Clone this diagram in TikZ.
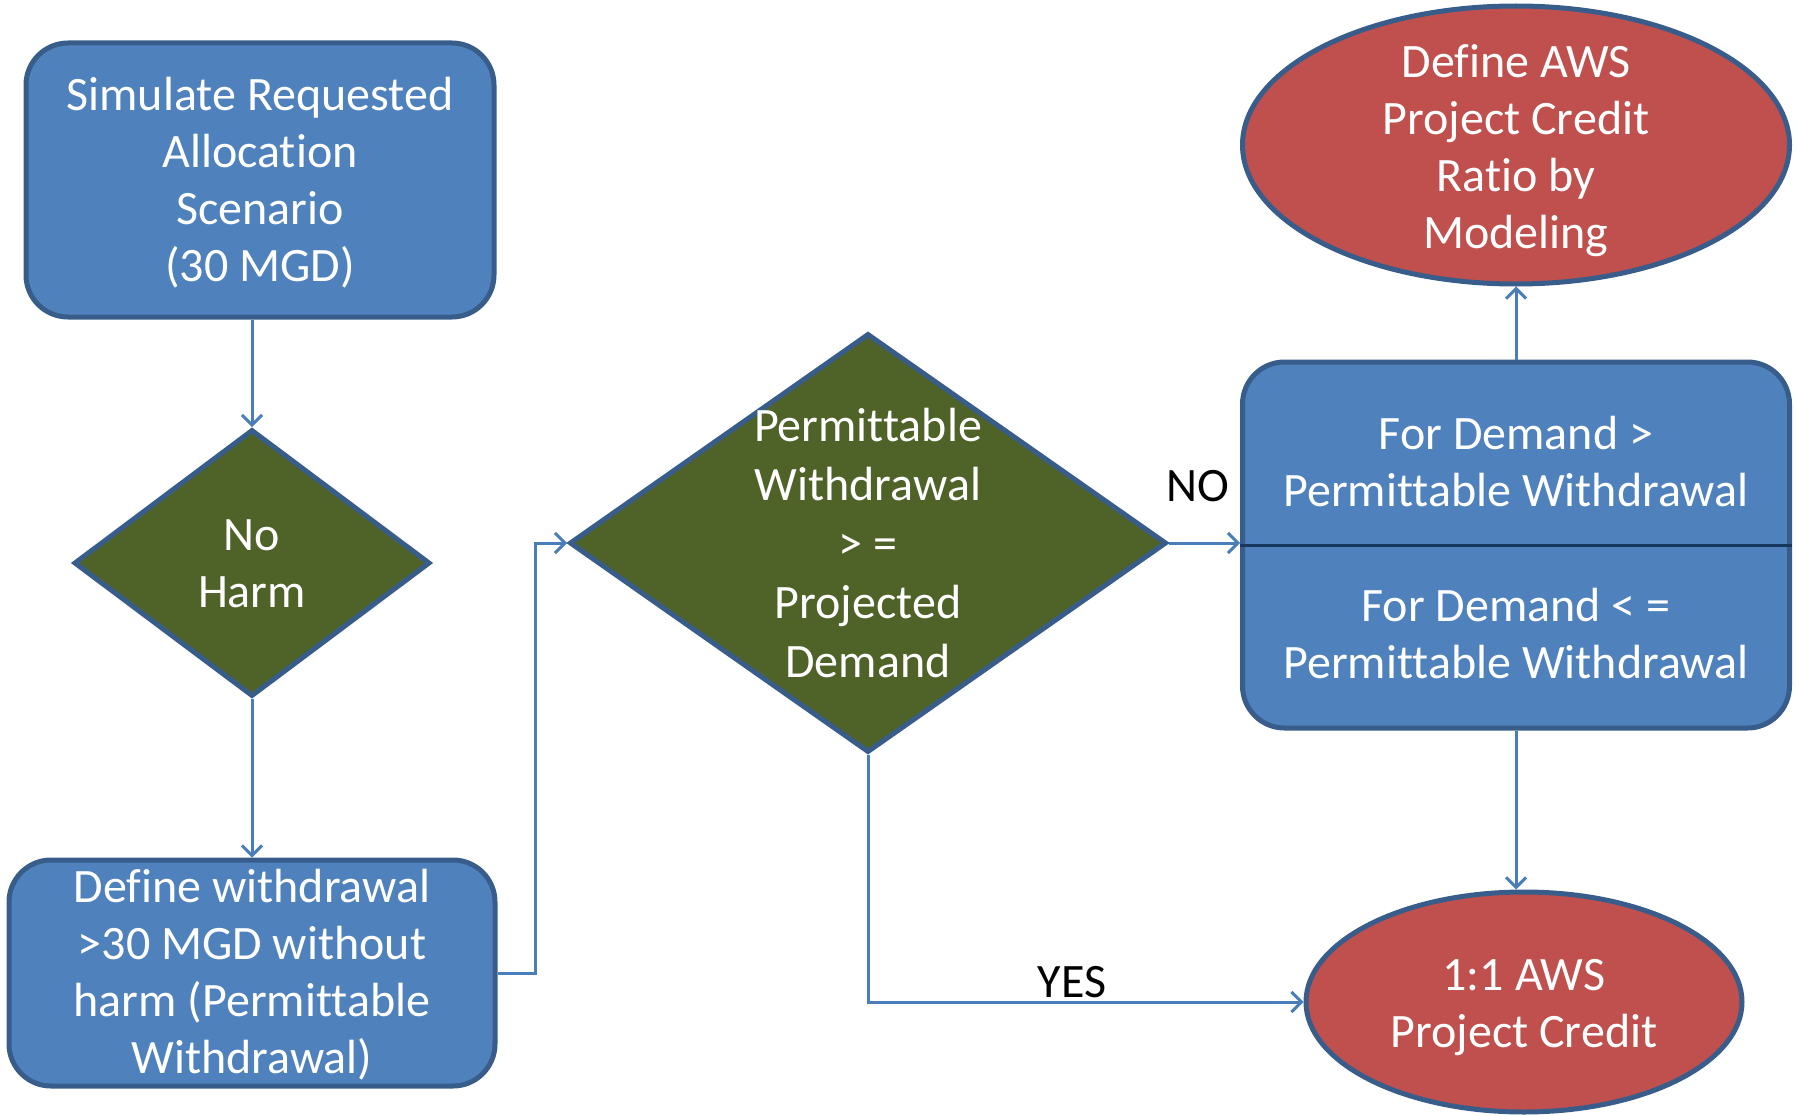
\documentclass[tikz,border=0pt]{standalone}
\usepackage{fontspec}
\setmainfont[Ligatures=NoCommon]{Carlito}
\usetikzlibrary{shapes.geometric,arrows.meta}
\definecolor{boxblue}{HTML}{4F81BD}
\definecolor{edgeblue}{HTML}{385D8A}
\definecolor{lineblue}{HTML}{4A7EBB}
\definecolor{dgreen}{HTML}{4F6228}
\definecolor{credred}{HTML}{C0504D}
\definecolor{divline}{HTML}{17375E}
\begin{document}
\begin{tikzpicture}[x=1pt,y=-1pt,
  rbox/.style={rectangle,rounded corners=42pt,draw=edgeblue,line width=5pt,fill=boxblue,inner sep=0pt},
  dmd/.style={diamond,draw=edgeblue,line width=5pt,fill=dgreen,inner sep=0pt},
  ell/.style={ellipse,draw=edgeblue,line width=5pt,fill=credred,inner sep=0pt},
  txt/.style={text=white,align=center,inner sep=0pt,font=\fontsize{48}{57}\selectfont},
  lbl/.style={text=black,inner sep=0pt,font=\fontsize{48}{57}\selectfont},
  conn/.style={draw=lineblue,line width=3pt,-{Straight Barb[length=10pt,width=20pt,line width=3pt]}}
]
\useasboundingbox (0,0) rectangle (1797,1116);
% shapes
\node[rbox,minimum width=468pt,minimum height=274pt] (b1) at (260,180) {};
\node[dmd,minimum width=356pt,minimum height=267pt] (d1) at (252,563) {};
\node[rbox,minimum width=486pt,minimum height=226pt] (b2) at (252,973) {};
\node[dmd,minimum width=597pt,minimum height=419pt] (d2) at (868,543) {};
\node[rbox,minimum width=547pt,minimum height=366pt] (b3) at (1516,545) {};
\node[ell,minimum width=547pt,minimum height=278pt] (e1) at (1516,145) {};
\node[ell,minimum width=436pt,minimum height=220pt] (e2) at (1524,1002) {};
\draw[divline,line width=3pt] (b3.west) -- (b3.east);
% texts
\node[txt] (t1) at (260,183) {Simulate Requested\\Allocation\\Scenario\\(30 MGD)};
\node[txt] (t2) at (252,564) {No\\Harm};
\node[txt] (t3) at (252,975) {Define withdrawal\\>30 MGD without\\harm (Permittable\\Withdrawal)};
\node[txt,font=\fontsize{48}{59}\selectfont] (t4) at (868,543) {Permittable\\Withdrawal\\> =\\Projected\\Demand};
\node[txt] (t5) at (1516,462) {For Demand >\\Permittable Withdrawal};
\node[txt] (t6) at (1516,634) {For Demand < =\\Permittable Withdrawal};
\node[txt] (t7) at (1516,151) {Define AWS\\Project Credit\\Ratio by\\Modeling};
\node[txt] (t8) at (1524,1008) {1:1 AWS\\Project Credit};
\node[lbl] (no) at (1198,486) {NO};
\node[lbl] (yes) at (1072,982) {YES};
% connectors
\draw[conn] (d1.north |- b1.south) -- (d1.north);
\draw[conn] (d1.south) -- (b2.north);
\draw[conn] (b2.east) -- ++(38,0) |- (d2.west);
\draw[conn] (d2.east) -- (b3.west |- d2.east);
\draw[conn] (b3.north) -- (e1.south);
\draw[conn] (b3.south) -- (b3.south |- e2.north);
\draw[conn] (d2.south) |- (e2.west);
\end{tikzpicture}
\end{document}
